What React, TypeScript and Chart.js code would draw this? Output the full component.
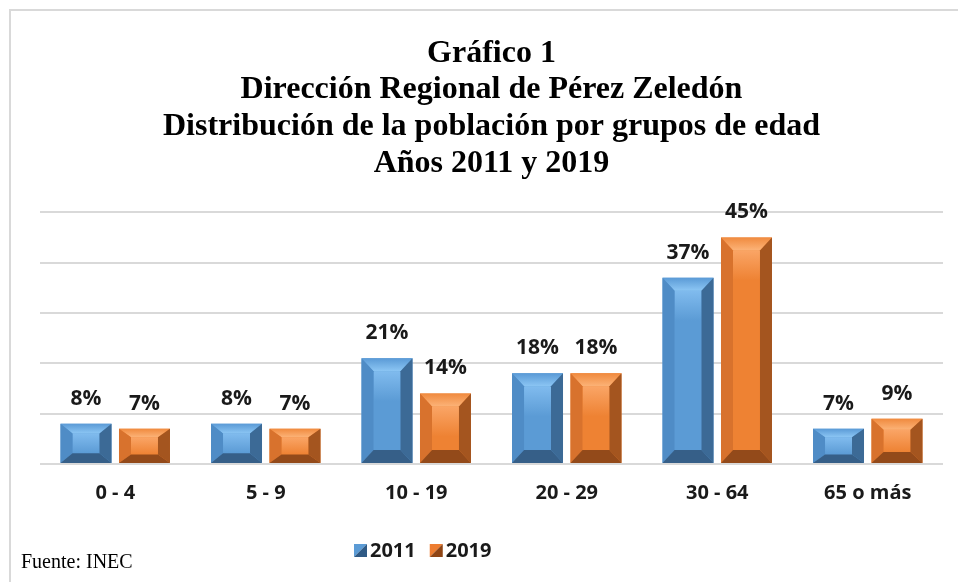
import { useEffect, useRef } from "react";
import { Chart, registerables } from "chart.js";

Chart.register(...registerables);

// ---- Data ----
const categories = ["0 - 4", "5 - 9", "10 - 19", "20 - 29", "30 - 64", "65 o más"];
const seriesNames = ["2011", "2019"];
const values2011 = [8, 8, 21, 18, 37, 7];
const values2019 = [7, 7, 14, 18, 45, 9];
const titleLines = [
  "Gráfico 1",
  "Dirección Regional de Pérez Zeledón",
  "Distribución de la población por grupos de edad",
  "Años 2011 y 2019",
];
const sourceNote = "Fuente: INEC";

// ---- Styles ----
const palettes = [
  {
    face: "#5b9bd5",
    faceLight: "#80bbee",
    topEdge: "#5a9ad6",
    topInner: "#8cc6f4",
    left: "#4f8cc6",
    right: "#3c6a96",
    bottom: "#365f88",
    legendLight: "#5b9bd5",
    legendDark: "#2f5a85",
  },
  {
    face: "#ee8233",
    faceLight: "#faa566",
    topEdge: "#f08a3e",
    topInner: "#fcb378",
    left: "#d8722d",
    right: "#a4551f",
    bottom: "#934a1a",
    legendLight: "#ed7d31",
    legendDark: "#8f4515",
  },
];
const SANS = "'Open Sans', 'DejaVu Sans', sans-serif";
const SERIF = "'Liberation Serif', 'DejaVu Serif', serif";
const TEXT_COLOR = "#1a1a1a";
const GRID_COLOR = "#d9d9d9";

function poly(ctx: CanvasRenderingContext2D, pts: number[][], fill: string | CanvasGradient) {
  ctx.beginPath();
  ctx.moveTo(pts[0][0], pts[0][1]);
  for (let i = 1; i < pts.length; i++) ctx.lineTo(pts[i][0], pts[i][1]);
  ctx.closePath();
  ctx.fillStyle = fill;
  ctx.fill();
}

const bevelPlugin = {
  id: "bevelBars",
  afterDatasetsDraw(chart: any) {
    const ctx: CanvasRenderingContext2D = chart.ctx;
    ctx.save();
    chart.data.datasets.forEach((ds: any, di: number) => {
      const meta = chart.getDatasetMeta(di);
      const pal = palettes[di];
      meta.data.forEach((el: any, i: number) => {
        const { x, y, base, width } = el.getProps(["x", "y", "base", "width"], true);
        const L = x - width / 2;
        const R = x + width / 2;
        const T = Math.min(y, base);
        const B = Math.max(y, base);
        const h = B - T;
        const bh = Math.min(12, width / 4);
        const bv = Math.min(13, h / 4);
        const iL = L + bh;
        const iR = R - bh;
        const iT = T + bv;
        const iB = B - bv;
        // face
        const g = ctx.createLinearGradient(0, iT, 0, iB);
        g.addColorStop(0, pal.faceLight);
        g.addColorStop(Math.min(1, 30 / Math.max(1, iB - iT)), pal.face);
        g.addColorStop(1, pal.face);
        poly(ctx, [[iL, iT], [iR, iT], [iR, iB], [iL, iB]], g);
        // top bevel
        const gt = ctx.createLinearGradient(0, T, 0, iT);
        gt.addColorStop(0, pal.topEdge);
        gt.addColorStop(1, pal.topInner);
        poly(ctx, [[L, T], [R, T], [iR, iT], [iL, iT]], gt);
        // left
        poly(ctx, [[L, T], [iL, iT], [iL, iB], [L, B]], pal.left);
        // right
        poly(ctx, [[R, T], [R, B], [iR, iB], [iR, iT]], pal.right);
        // bottom
        poly(ctx, [[L, B], [iL, iB], [iR, iB], [R, B]], pal.bottom);

        // value label
        const v = ds.data[i];
        ctx.fillStyle = TEXT_COLOR;
        ctx.font = `bold 21px ${SANS}`;
        ctx.textAlign = "center";
        ctx.textBaseline = "alphabetic";
        ctx.fillText(`${v}%`, x, T - 19);
      });
    });
    ctx.restore();
  },
  afterDraw(chart: any) {
    const ctx: CanvasRenderingContext2D = chart.ctx;
    const area = chart.chartArea;
    ctx.save();
    // frame lines
    ctx.fillStyle = GRID_COLOR;
    ctx.fillRect(9, 9, chart.width - 9, 2);
    ctx.fillRect(9, 9, 2, chart.height - 9);

    // legend
    ctx.font = `bold 20px ${SANS}`;
    ctx.textBaseline = "alphabetic";
    ctx.textAlign = "left";
    let lx = area.left + 314;
    const ly = 557;
    seriesNames.forEach((name, di) => {
      const pal = palettes[di];
      const s = 13;
      poly(ctx, [[lx, ly - s], [lx + s, ly - s], [lx, ly]], pal.legendLight);
      poly(ctx, [[lx + s, ly - s], [lx + s, ly], [lx, ly]], pal.legendDark);
      ctx.fillStyle = TEXT_COLOR;
      ctx.fillText(name, lx + s + 3, ly);
      lx += s + 3 + ctx.measureText(name).width + 14;
    });

    // source
    ctx.font = `20px ${SERIF}`;
    ctx.fillStyle = "#000000";
    ctx.fillText(sourceNote, 21, 568);
    ctx.restore();
  },
};

export default function App() {
  const ref = useRef<HTMLCanvasElement | null>(null);

  useEffect(() => {
    if (!ref.current) return;
    const chart = new Chart(ref.current, {
      type: "bar",
      data: {
        labels: categories,
        datasets: [
          {
            label: seriesNames[0],
            data: values2011,
            backgroundColor: palettes[0].face,
            borderWidth: 0,
            categoryPercentage: 0.777,
            barPercentage: 0.872,
          },
          {
            label: seriesNames[1],
            data: values2019,
            backgroundColor: palettes[1].face,
            borderWidth: 0,
            categoryPercentage: 0.777,
            barPercentage: 0.872,
          },
        ],
      },
      options: {
        responsive: false,
        animation: false,
        devicePixelRatio: 1,
        layout: { padding: { left: 40, right: 15, top: 10, bottom: 78 } },
        plugins: {
          legend: { display: false },
          tooltip: { enabled: false },
          title: {
            display: true,
            text: titleLines,
            color: "#000000",
            font: { family: SERIF, size: 32, weight: "bold", lineHeight: 1.15 },
            padding: { top: 25, bottom: 30 },
          },
        },
        scales: {
          x: {
            grid: { display: false, drawTicks: false },
            border: { display: false },
            ticks: {
              color: TEXT_COLOR,
              font: { family: SANS, size: 20, weight: "bold" },
              padding: 17,
            },
            afterFit: (scale: any) => {
              scale.height = 40;
            },
          },
          y: {
            min: 0,
            max: 50,
            ticks: { display: false, stepSize: 10 },
            grid: { color: GRID_COLOR, lineWidth: 2, drawTicks: false },
            border: { display: false },
            afterFit: (scale: any) => {
              scale.width = 0;
            },
          },
        },
      },
      plugins: [bevelPlugin],
    });
    return () => chart.destroy();
  }, []);

  return (
    <div style={{ position: "fixed", left: 0, top: 0, width: 958, height: 582, overflow: "hidden", background: "#ffffff" }}>
      <canvas ref={ref} width={958} height={582} style={{ display: "block" }} />
    </div>
  );
}
